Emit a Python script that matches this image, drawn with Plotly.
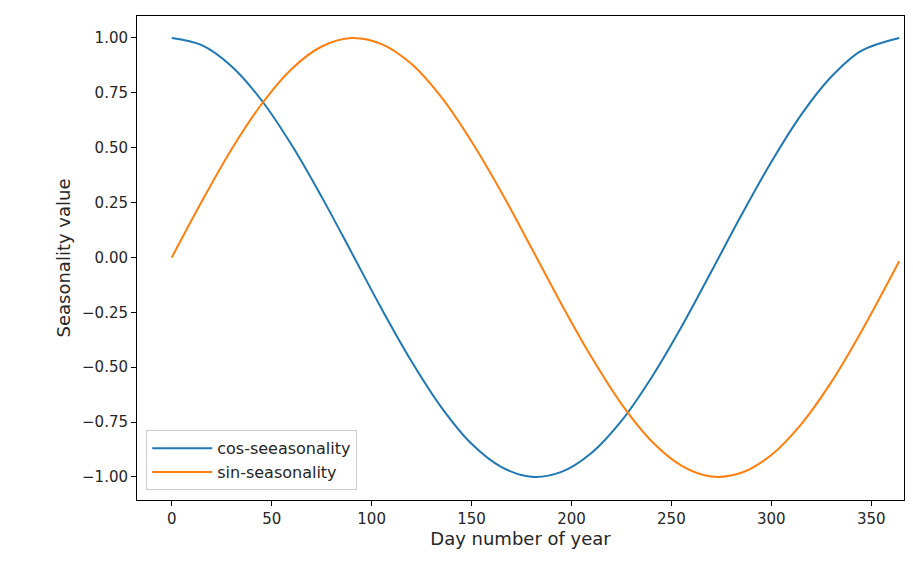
import plotly.graph_objects as go

days = [0,15,30,45,60,75,90,105,120,135,150,165,180,195,210,225,240,255,270,285,300,315,330,345,364]
cos_vals = [1.00,0.967,0.870,0.715,0.512,0.276,0.022,-0.234,-0.474,-0.684,-0.849,-0.955,-0.999,-0.977,-0.891,-0.745,-0.548,-0.317,-0.064,0.192,0.435,0.651,0.823,0.941,1.00]
sin_vals = [0.00,0.255,0.494,0.699,0.859,0.961,1.000,0.972,0.881,0.729,0.528,0.296,0.043,-0.213,-0.454,-0.667,-0.836,-0.948,-0.998,-0.981,-0.900,-0.759,-0.568,-0.338,-0.017]
xticks = [0,50,100,150,200,250,300,350]
yticks = [1.0,0.75,0.5,0.25,0.0,-0.25,-0.5,-0.75,-1.0]
ytext = ["1.00","0.75","0.50","0.25","0.00","\u22120.25","\u22120.50","\u22120.75","\u22121.00"]

fig = go.Figure()
fig.add_trace(go.Scatter(x=days, y=cos_vals, mode="lines", line=dict(color="#1f77b4", width=2, shape="spline", smoothing=1.0), name="cos-seeasonality"))
fig.add_trace(go.Scatter(x=days, y=sin_vals, mode="lines", line=dict(color="#ff7f0e", width=2, shape="spline", smoothing=1.0), name="sin-seasonality"))
ax = dict(showgrid=False, zeroline=False, showline=True, linecolor="black", linewidth=1, mirror=True,
          ticks="outside", ticklen=5, tickcolor="black", automargin=False)
fig.update_layout(
    width=900, height=554, plot_bgcolor="white", paper_bgcolor="white",
    margin=dict(l=129, r=4, t=8, b=62),
    font=dict(family="DejaVu Sans", size=15, color="#262626"),
    xaxis=dict(ax, range=[-17.4, 366.4], tickvals=xticks, title=dict(text="Day number of year", standoff=4)),
    yaxis=dict(ax, range=[-1.105, 1.1], tickvals=yticks, ticktext=ytext, title=dict(text="Seasonality value", standoff=6)),
    legend=dict(x=0.012, y=0.02, xanchor="left", yanchor="bottom", bordercolor="#cccccc", borderwidth=1,
                bgcolor="white", font=dict(size=16), itemwidth=60),
)
fig.write_html("out.html")
